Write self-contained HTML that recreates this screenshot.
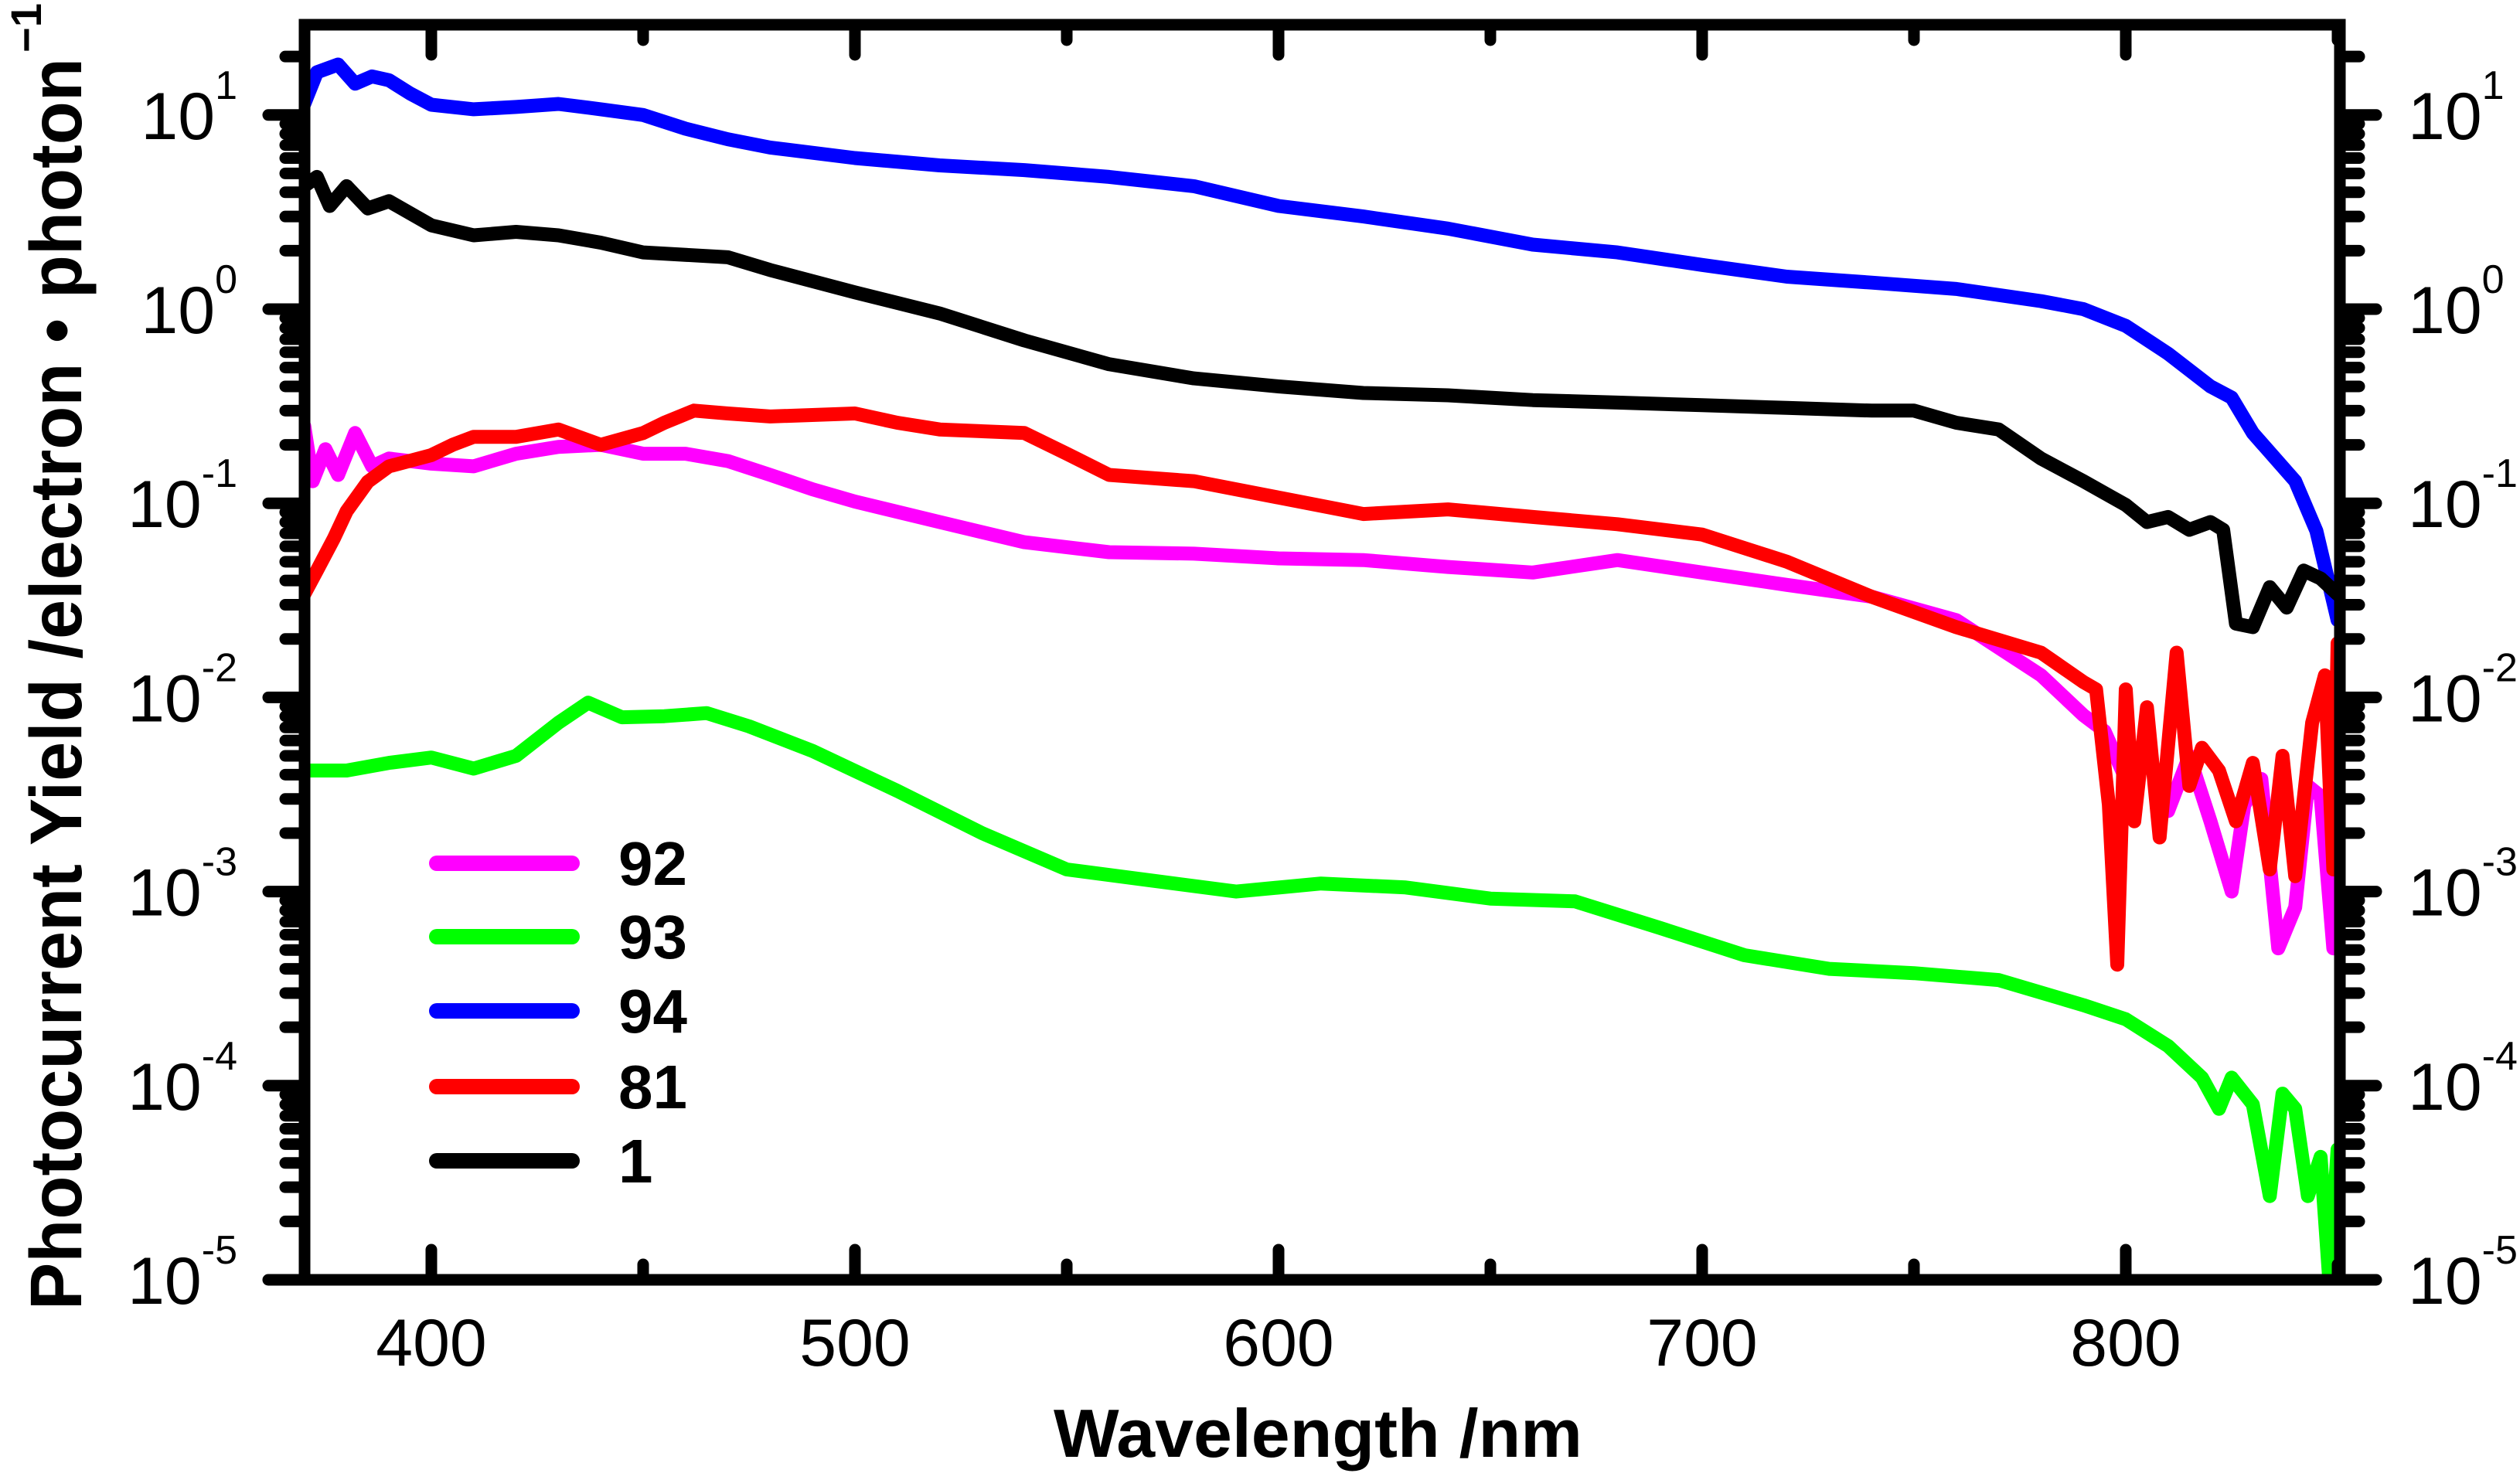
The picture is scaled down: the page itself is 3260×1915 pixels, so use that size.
<!DOCTYPE html>
<html><head><meta charset="utf-8"><style>
html,body{margin:0;padding:0;background:#fff}
svg{display:block}
text{font-family:"Liberation Sans",Arial,sans-serif}
</style></head><body>
<svg id="chart" width="3260" height="1915" viewBox="0 0 3260 1915" xmlns="http://www.w3.org/2000/svg">
<defs><clipPath id="plotclip"><rect x="394" y="32" width="2633" height="1624"/></clipPath></defs>
<g id="series" clip-path="url(#plotclip)"></g>
<g id="axes"></g>
<g id="legend"></g>
<text x="1705" y="1885" text-anchor="middle" font-size="88" font-weight="bold" textLength="684" lengthAdjust="spacingAndGlyphs">Wavelength /nm</text>
<text transform="translate(105,1695) rotate(-90)" x="0" y="0" font-size="95" font-weight="bold" textLength="1620" lengthAdjust="spacingAndGlyphs">Photocurrent Yield /electron • photon</text>
<text transform="translate(53,68) rotate(-90)" x="0" y="0" font-size="56" font-weight="bold">−1</text>
</svg>
<script>
const wavelengths92 = [370,372,375,378,382,386,390,400,410,420,430,440,450,460,470,480,490,500,520,540,560,580,600,620,640,660,680,700,720,740,760,780,790,795,800,805,810,815,820,825,828,832,836,840,843,846,849];
const yield92 = [0.25,0.13,0.19,0.14,0.23,0.155,0.17,0.16,0.155,0.18,0.195,0.2,0.18,0.18,0.165,0.14,0.118,0.102,0.08,0.063,0.056,0.055,0.052,0.051,0.047,0.044,0.051,0.044,0.038,0.033,0.025,0.013,0.0081,0.0067,0.0038,0.005,0.0026,0.005,0.0023,0.001,0.0028,0.0038,0.00051,0.00083,0.0035,0.0031,0.00051];
const wavelengths93 = [370,380,390,400,410,420,430,437,445,455,465,475,490,510,530,550,570,590,610,630,650,670,690,710,730,750,770,790,800,810,818,822,825,830,834,837,840,843,846,848,850];
const yield93 = [0.0042,0.0042,0.0046,0.0049,0.0043,0.005,0.0074,0.0094,0.0079,0.008,0.0083,0.0071,0.0053,0.0033,0.002,0.0013,0.00114,0.001,0.0011,0.00105,0.00092,0.00089,0.00065,0.00047,0.0004,0.00038,0.00035,0.00026,0.00022,0.00016,0.00011,0.000076,0.00011,0.00008,0.000027,0.000091,0.000076,0.000027,0.000043,0.0000103,0.000047];
const wavelengths94 = [370,373,378,382,386,390,395,400,410,420,430,440,450,460,470,480,500,520,540,560,580,600,620,640,660,680,700,720,740,760,780,790,800,810,820,825,830,840,845,850];
const yield94 = [11.4,16.6,18.2,14.5,15.8,15.1,12.9,11.3,10.7,11,11.4,10.7,10,8.5,7.5,6.8,6.0,5.5,5.2,4.8,4.3,3.4,3.0,2.6,2.15,1.96,1.69,1.47,1.37,1.27,1.1,1.0,0.82,0.59,0.40,0.35,0.23,0.13,0.072,0.025];
const wavelengths81 = [370,373,377,380,385,390,400,405,410,420,430,440,450,455,462,470,480,500,510,520,540,550,560,580,600,620,640,660,680,700,720,740,760,780,790,793,796,798,800,802,805,808,812,815,818,822,826,830,834,837,840,844,847,849,850];
const yield81 = [0.034,0.045,0.066,0.091,0.129,0.155,0.177,0.2,0.22,0.22,0.24,0.2,0.23,0.26,0.30,0.29,0.28,0.29,0.26,0.24,0.23,0.18,0.14,0.13,0.107,0.088,0.093,0.085,0.078,0.069,0.05,0.033,0.023,0.017,0.012,0.011,0.0028,0.00042,0.011,0.0023,0.0089,0.0019,0.017,0.0035,0.0055,0.0042,0.0023,0.0046,0.0013,0.005,0.0012,0.0074,0.013,0.0013,0.019];
const wavelengths1 = [370,373,376,380,385,390,400,410,420,430,440,450,470,480,500,520,540,560,580,600,620,640,660,680,700,720,740,750,760,770,780,790,800,805,810,815,820,823,826,830,834,838,842,846,850];
const yield1 = [4.3,4.8,3.4,4.3,3.3,3.6,2.7,2.4,2.5,2.4,2.2,1.96,1.85,1.59,1.22,0.95,0.69,0.52,0.44,0.40,0.37,0.36,0.34,0.33,0.32,0.31,0.30,0.30,0.26,0.24,0.17,0.13,0.098,0.08,0.085,0.073,0.08,0.073,0.024,0.023,0.037,0.029,0.045,0.041,0.034];
const legendLabels = ["92","93","94","81","1"];
const xTickLabels = ["400","500","600","700","800"];
const yTickExponents = [1,0,-1,-2,-3,-4,-5];

const NS="http://www.w3.org/2000/svg";
const X0=558, XPX=5.48, Y0=400, DEC=251.2;
function xs(l){return X0+(l-400)*XPX;}
function ys(v){return Y0-Math.log10(v)*DEC;}
function mk(tag,attrs,parent){const e=document.createElementNS(NS,tag);for(const k in attrs)e.setAttribute(k,attrs[k]);parent.appendChild(e);return e;}
const series=document.getElementById('series'), axes=document.getElementById('axes'), legend=document.getElementById('legend');

const order=[[wavelengths92,yield92,'#ff00ff','series-92'],[wavelengths93,yield93,'#00ff00','series-93'],[wavelengths94,yield94,'#0000ff','series-94'],[wavelengths81,yield81,'#ff0000','series-81'],[wavelengths1,yield1,'#000000','series-1']];
order.forEach(s=>{
  const d=s[0].map((l,i)=>(i?'L':'M')+xs(l).toFixed(1)+' '+ys(s[1][i]).toFixed(1)).join(' ');
  const p=mk('path',{d:d,fill:'none',stroke:s[2],'stroke-width':18,'stroke-linejoin':'round','stroke-linecap':'round'},series);
  
  
});

const L=394,R=3027,T=32,B=1656;
const frame=mk('rect',{x:L,y:T,width:R-L,height:B-T,fill:'none',stroke:'#000','stroke-width':15},axes);


// x ticks
for(let l=400;l<=850;l+=50){
  const major=(l%100===0), len=major?39:20, x=xs(l);
  const t1=mk('line',{x1:x,y1:B,x2:x,y2:B-len,stroke:'#000','stroke-width':15,'stroke-linecap':'round'},axes);
  
  
  const t2=mk('line',{x1:x,y1:T,x2:x,y2:T+len,stroke:'#000','stroke-width':15,'stroke-linecap':'round'},axes);
  
  
}
xTickLabels.forEach(s=>{
  const t=mk('text',{x:xs(+s),y:1767,'text-anchor':'middle','font-size':86},axes);
  t.textContent=s;
  
  
});
// y ticks
for(let e=-5;e<=1;e++){
  for(let m=1;m<=9;m++){
    const v=m*Math.pow(10,e), y=ys(v);
    if(y<T-1) continue;
    const len=m===1?47:25;
    const a=mk('line',{x1:L,y1:y,x2:L-len,y2:y,stroke:'#000','stroke-width':15,'stroke-linecap':'round'},axes);
    
    
    const b=mk('line',{x1:R,y1:y,x2:R+len,y2:y,stroke:'#000','stroke-width':15,'stroke-linecap':'round'},axes);
    
    
  }
}
yTickExponents.forEach(e=>{
  const y=ys(Math.pow(10,e));
  const t=mk('text',{x:307,y:y+31,'text-anchor':'end','font-size':86},axes);
  
  
  t.appendChild(document.createTextNode('10'));
  const sp=mk('tspan',{dy:-52,'font-size':52},t); sp.textContent=String(e);
  const t2=mk('text',{x:3115,y:y+31,'font-size':86},axes);
  
  
  t2.appendChild(document.createTextNode('10'));
  const sp2=mk('tspan',{dy:-52,'font-size':52},t2); sp2.textContent=String(e);
});
// legend
const legColors=['#ff00ff','#00ff00','#0000ff','#ff0000','#000000'];
const legY=[1117,1212,1308,1406,1502];
legendLabels.forEach((s,i)=>{
  const ln=mk('line',{x1:565,y1:legY[i],x2:740,y2:legY[i],stroke:legColors[i],'stroke-width':20,'stroke-linecap':'round'},legend);
  
  
  const t=mk('text',{x:800,y:legY[i]+28,'font-size':80,'font-weight':'bold'},legend);
  t.textContent=s;
  
  
});
</script>
</body></html>
